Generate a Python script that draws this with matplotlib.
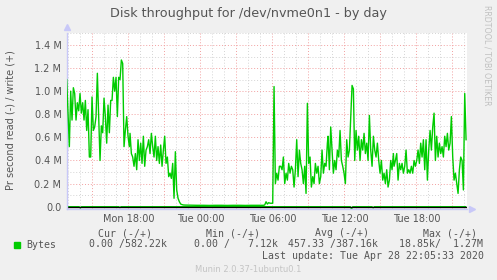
import matplotlib
matplotlib.use('Agg')
import matplotlib.pyplot as plt
import numpy as np
from matplotlib.ticker import FuncFormatter, MultipleLocator

# write throughput, MB/s; hours since Mon 00:00
step = 1 / 9
w_mon_pm = [1.10, 0.80, 0.52, 1.00, 0.75, 1.03, 0.98, 0.75, 0.90, 0.83, 0.98, 0.81,
            0.90, 0.75, 0.92, 0.66, 0.84, 0.43, 0.43, 0.95, 0.66, 0.69, 0.78, 1.155,
            0.78, 0.40, 0.70, 0.64, 0.94, 0.78, 0.55, 0.88, 0.64, 0.92, 0.92, 1.12,
            1.00, 1.12, 0.78, 1.12, 1.10, 1.27, 1.24, 0.52, 0.66, 0.78, 0.61, 0.52]
w_mon_eve = [0.635, 0.46, 0.43, 0.35, 0.46, 0.32, 0.58, 0.40, 0.55, 0.375, 0.61, 0.35,
             0.49, 0.52, 0.58, 0.46, 0.635, 0.52, 0.43, 0.61, 0.40, 0.52, 0.375, 0.534,
             0.35, 0.49, 0.61, 0.375, 0.43, 0.26, 0.29, 0.245, 0.375, 0.073, 0.476, 0.145,
             0.073, 0.043, 0.023, 0.018, 0.015]
w_night = [0.014, 0.013, 0.012, 0.012, 0.011, 0.012, 0.012, 0.011, 0.012, 0.012,
           0.011, 0.012, 0.012]
w_tue_am = [0.012, 0.012, 0.015, 0.043, 0.023, 0.035, 0.03, 0.03, 0.03, 1.04, 0.20, 0.29,
            0.23, 0.35, 0.35, 0.32, 0.43, 0.20, 0.29, 0.23, 0.375, 0.29, 0.35, 0.32,
            0.17, 0.32, 0.58, 0.26, 0.49, 0.375, 0.32, 0.20, 0.35, 0.115, 0.895, 0.375,
            0.43, 0.17, 0.26, 0.20, 0.375, 0.29, 0.35, 0.20, 0.26, 0.49, 0.29, 0.375,
            0.35, 0.55]
w_tue_pm = [0.61, 0.32, 0.69, 0.49, 0.29, 0.40, 0.32, 0.49, 0.43, 0.66, 0.40, 0.35,
            0.29, 0.20, 0.58, 0.43, 0.49, 0.78, 1.05, 1.02, 0.40, 0.66, 0.49, 0.61,
            0.40, 0.58, 0.49, 0.635, 0.46, 0.55, 0.40, 0.79, 0.49, 0.35, 0.61, 0.49,
            0.43, 0.55, 0.40, 0.29, 0.40, 0.23, 0.29, 0.20, 0.32, 0.17, 0.23, 0.40,
            0.32, 0.46]
w_tue_eve = [0.35, 0.40, 0.46, 0.23, 0.375, 0.32, 0.375, 0.29, 0.35, 0.49, 0.29, 0.32,
             0.29, 0.35, 0.29, 0.40, 0.35, 0.40, 0.49, 0.375, 0.55, 0.43, 0.58, 0.32,
             0.58, 0.23, 0.49, 0.66, 0.49, 0.69, 0.81, 0.40, 0.61, 0.43, 0.55, 0.46,
             0.52, 0.43, 0.61, 0.52, 0.635, 0.49, 0.55, 0.78, 0.43, 0.23, 0.29, 0.20,
             0.115, 0.32, 0.43, 0.40, 0.145, 0.98, 0.58]
seg_start = [12.864, 18.142, 22.75, 29.142, 34.642, 40.142]
seg_step = [step, step, 0.5, step, step, step]
segments = [w_mon_pm, w_mon_eve, w_night, w_tue_am, w_tue_pm, w_tue_eve]

# read throughput (plotted below zero)
read_t = [12.9, 13.9, 14.0, 14.1, 17.2, 17.3, 17.4, 36.5, 36.6, 36.7, 38.3, 38.4, 38.5, 46.1]
read_v = [0, 0, 0.012, 0, 0, 0.008, 0, 0, 0.019, 0, 0, 0.010, 0, 0]

tick_pos = [18, 24, 30, 36, 42]
tick_lab = ['Mon 18:00', 'Tue 00:00', 'Tue 06:00', 'Tue 12:00', 'Tue 18:00']

t = np.concatenate([s + np.arange(len(v)) * d for s, d, v in zip(seg_start, seg_step, segments)])
w = np.concatenate(segments)

bg = '#f0f0f0'
green = '#00cc00'
txt = '#555555'

fig = plt.figure(figsize=(4.97, 2.80), dpi=100, facecolor=bg)
ax = fig.add_axes([67 / 497, 1 - 208.5 / 280, 400 / 497, 176 / 280])
ax.set_facecolor('white')

ax.plot(t, w, color=green, lw=1.0, zorder=3)
ax.plot(read_t, -np.array(read_v), color=green, lw=1.0, zorder=2)
ax.axhline(0, color='black', lw=1.0, zorder=2.5)

ax.set_xlim(12.89, 46.22)
ax.set_ylim(-0.0156, 1.508)

ax.xaxis.set_major_locator(MultipleLocator(3))
ax.xaxis.set_minor_locator(MultipleLocator(1))
ax.yaxis.set_major_locator(MultipleLocator(0.2))
ax.yaxis.set_minor_locator(MultipleLocator(0.1))
ax.xaxis.set_major_formatter(FuncFormatter(
    lambda v, p: tick_lab[tick_pos.index(int(round(v)))] if int(round(v)) in tick_pos else ''))
ax.yaxis.set_major_formatter(FuncFormatter(
    lambda v, p: '0.0' if abs(v) < 1e-9 else f'{v:.1f} M'))

ax.grid(which='minor', color='#d4d4d4', ls=(0, (1, 2)), lw=0.7)
ax.grid(which='major', color='#f2a0a0', ls=(0, (1, 2)), lw=0.7)
ax.set_axisbelow(True)
ax.tick_params(which='both', length=0, colors=txt, labelsize=7, pad=4)

for s in ['top', 'right']:
    ax.spines[s].set_visible(False)
for s in ['left', 'bottom']:
    ax.spines[s].set_color('#c8c8f8')
    ax.spines[s].set_linewidth(1)
ax.plot([0], [1.03], marker='^', color='#c8c8f8', ms=5, transform=ax.transAxes, clip_on=False)
ax.plot([1.012], [0], marker='>', color='#c8c8f8', ms=5, transform=ax.transAxes, clip_on=False)

fig.text(0.5, 1 - 13 / 280, 'Disk throughput for /dev/nvme0n1 - by day',
         ha='center', va='center', fontsize=9.2, color=txt)
fig.text(11 / 497, 1 - 120 / 280, 'Pr second read (-) / write (+)', rotation=90,
         ha='center', va='center', fontsize=7, color=txt)
fig.text(487 / 497, 1 - 5 / 280, 'RRDTOOL / TOBI OETIKER', rotation=270,
         ha='center', va='top', fontsize=5.7, color='#c0c0c0')

mono = dict(family='DejaVu Sans Mono', fontsize=7.1, color=txt, va='center')
fig.text(98 / 497, 1 - 233 / 280, 'Cur (-/+)', **mono)
fig.text(206 / 497, 1 - 233 / 280, 'Min (-/+)', **mono)
fig.text(315 / 497, 1 - 233 / 280, 'Avg (-/+)', **mono)
fig.text(423 / 497, 1 - 233 / 280, 'Max (-/+)', **mono)
fig.patches.append(plt.Rectangle((14 / 497, 1 - 247.5 / 280), 6 / 497, 6 / 280,
                                 transform=fig.transFigure, color=green))
fig.text(26.5 / 497, 1 - 244.5 / 280, 'Bytes', **mono)
fig.text(89 / 497, 1 - 244.5 / 280, '0.00 /582.22k', **mono)
fig.text(194 / 497, 1 - 244.5 / 280, '0.00 /   7.12k', **mono)
fig.text(287.5 / 497, 1 - 244.5 / 280, '457.33 /387.16k', **mono)
fig.text(399 / 497, 1 - 244.5 / 280, '18.85k/  1.27M', **mono)
fig.text(261.5 / 497, 1 - 256 / 280, 'Last update: Tue Apr 28 22:05:33 2020', **mono)
fig.text(248 / 497, 1 - 269 / 280, 'Munin 2.0.37-1ubuntu0.1', ha='center', va='center',
         fontsize=6, color='#c4c4c4')

fig.savefig('out.png', dpi=100, facecolor=bg)
